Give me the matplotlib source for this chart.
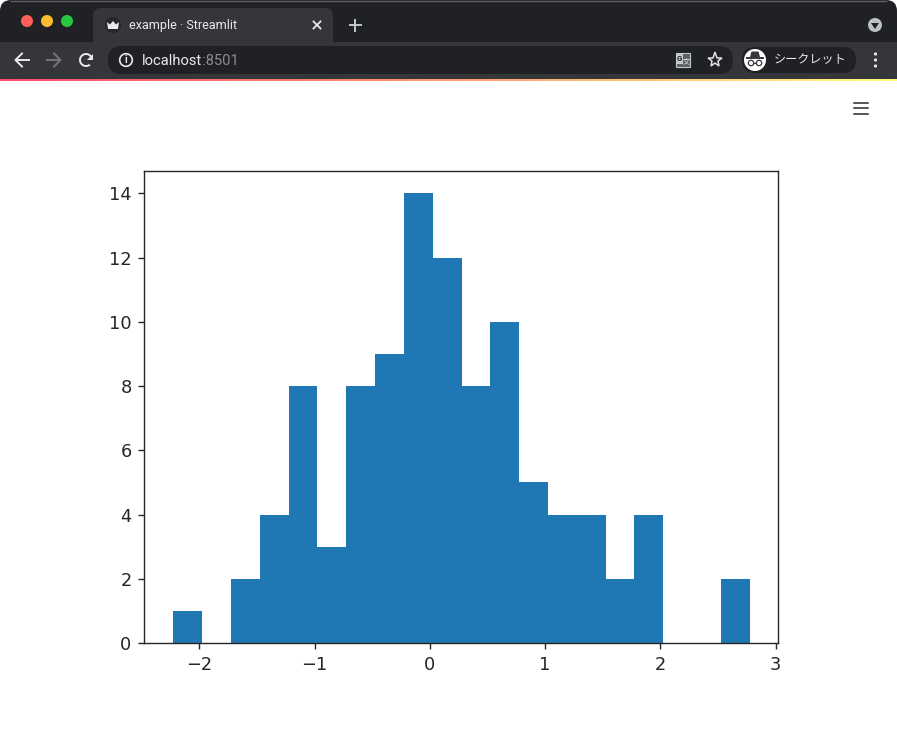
import matplotlib
matplotlib.use("Agg")
import matplotlib.pyplot as plt
import numpy as np
from matplotlib.patches import Circle, FancyBboxPatch, Polygon, Rectangle, Arc

# Data
counts = [1, 0, 2, 4, 8, 3, 8, 9, 14, 12, 8, 10, 5, 4, 4, 2, 4, 0, 0, 2]
bin_edges = [-2.225, -1.975, -1.725, -1.475, -1.225, -0.975, -0.725, -0.475, -0.225, 0.025, 0.275,
             0.525, 0.775, 1.025, 1.275, 1.525, 1.775, 2.025, 2.275, 2.525, 2.775]
x_ticks = [-2, -1, 0, 1, 2, 3]
y_ticks = [0, 2, 4, 6, 8, 10, 12, 14]

tab_title = "example · Streamlit"
url_host = "localhost"
url_port = ":8501"
incognito_label = "シークレット"

W, H = 897, 737
UI_FONT = ["Roboto", "DejaVu Sans"]

fig = plt.figure(figsize=(W / 100, H / 100), dpi=100, facecolor="white")

# Browser window, drawn in pixel coordinates
ui = fig.add_axes([0, 0, 1, 1])
ui.set_xlim(0, W)
ui.set_ylim(H, 0)
ui.axis("off")


def pill(x0, y0, x1, y1, r, color, z=2):
    ui.add_patch(FancyBboxPatch((x0 + r, y0 + r), x1 - x0 - 2 * r, y1 - y0 - 2 * r,
                                boxstyle=f"round,pad={r},rounding_size={r}",
                                fc=color, ec="none", zorder=z))


pill(0, 0, W, 40, 11, "#202124", 1)
ui.add_patch(Rectangle((0, 14), W, 28, fc="#202124", ec="none", zorder=1))
ui.plot([11, W - 11], [0.5, 0.5], color="#5f6063", lw=1, zorder=3)
ui.add_patch(Rectangle((0, 42), W, 37, fc="#35363a", ec="none", zorder=1))

# Traffic lights
for cx, col in zip([27, 47, 67], ["#ff5f57", "#febc2e", "#28c840"]):
    ui.add_patch(Circle((cx, 21), 6, fc=col, ec="none", zorder=3))

# Tab
pill(93, 8, 333, 50, 8, "#35363a", 2)
ui.add_patch(Circle((113, 25), 8, fc="#25262c", ec="none", zorder=3))
ui.add_patch(Polygon([(107, 22), (110, 24.5), (113, 21), (116, 24.5), (119, 22), (118, 29), (108, 29)],
                     fc="#e8eaed", ec="none", zorder=4))
ui.text(129, 25, tab_title, color="#e8eaed", fontsize=9.0, family=UI_FONT, va="center", ha="left")
ui.plot([313.5, 320.5], [21.5, 28.5], color="#e8eaed", lw=1.3, zorder=4)
ui.plot([313.5, 320.5], [28.5, 21.5], color="#e8eaed", lw=1.3, zorder=4)
ui.plot([349.5, 360.5], [25, 25], color="#c4c7cb", lw=1.4, zorder=4)
ui.plot([355, 355], [19.5, 30.5], color="#c4c7cb", lw=1.4, zorder=4)
ui.add_patch(Circle((875, 25), 7, fc="#bdc1c6", ec="none", zorder=3))
ui.add_patch(Polygon([(871, 23), (879, 23), (875, 29)], fc="#202124", ec="none", zorder=4))

# Toolbar
ui.plot([16, 29], [60, 60], color="#e8eaed", lw=1.4, zorder=3)
ui.plot([22, 15.5, 22], [53.5, 60, 66.5], color="#e8eaed", lw=1.4, zorder=3)
ui.plot([47, 60], [60, 60], color="#75777a", lw=1.4, zorder=3)
ui.plot([54, 60.5, 54], [53.5, 60, 66.5], color="#75777a", lw=1.4, zorder=3)
ui.add_patch(Arc((86, 60), 12, 12, theta1=-310, theta2=-10, ec="#e8eaed", lw=1.4, zorder=3))
ui.add_patch(Polygon([(92.5, 53.5), (92.5, 59.5), (86.5, 59.5)], fc="#e8eaed", ec="none", zorder=3))
pill(108, 46, 733, 74, 14, "#202124", 2)
ui.add_patch(Circle((126, 60), 6.3, fc="none", ec="#e8eaed", lw=1.2, zorder=3))
ui.text(126, 60, "i", color="#e8eaed", fontsize=7.5, family=UI_FONT, weight="bold", ha="center",
        va="center", zorder=4)
host = ui.text(142, 60.5, url_host, color="#e8eaed", fontsize=10.6, family=UI_FONT, va="center", ha="left")
fig.canvas.draw()
host_end = host.get_window_extent().x1
ui.text(host_end - 0.5, 60.5, url_port, color="#8a8c8f", fontsize=10.6, family=UI_FONT, va="center", ha="left")

# Translate and star icons
ui.add_patch(Rectangle((676, 53), 14, 14, fc="#5f6063", ec="#c4c7cb", lw=0.8, zorder=3))
ui.add_patch(Rectangle((676, 53), 7, 11, fc="#c4c7cb", ec="none", zorder=4))
ui.text(679.5, 58.5, "G", color="#202124", fontsize=5.5, family=UI_FONT, weight="bold", ha="center",
        va="center", zorder=5)
ui.text(686.5, 61.5, "文", color="#e8eaed", fontsize=5, family=["Noto Sans CJK JP"], ha="center",
        va="center", zorder=5)
ui.plot([715], [60], marker="*", ms=11, mfc="none", mec="#dfe1e5", mew=1.1, zorder=3)

# Incognito badge
pill(742, 47, 856, 73, 13, "#202124", 2)
ui.add_patch(Circle((755, 60), 11, fc="white", ec="none", zorder=3))
ui.add_patch(Polygon([(750, 57), (751.5, 51.5), (758.5, 51.5), (760, 57)], fc="#35363a", ec="none", zorder=4))
ui.plot([747, 763], [57.5, 57.5], color="#35363a", lw=1.4, zorder=4)
ui.add_patch(Circle((751, 63), 2.7, fc="white", ec="#35363a", lw=0.9, zorder=4))
ui.add_patch(Circle((759, 63), 2.7, fc="white", ec="#35363a", lw=0.9, zorder=4))
ui.plot([753.7, 756.3], [62.5, 62.5], color="#35363a", lw=0.9, zorder=4)
ui.text(810, 60, incognito_label, color="#e8eaed", fontsize=8.7, family=["Noto Sans CJK JP", "DejaVu Sans"],
        ha="center", va="center", zorder=4)
for dot_y in [54, 60, 66]:
    ui.add_patch(Circle((875.5, dot_y), 1.6, fc="#e8eaed", ec="none", zorder=3))

# Streamlit decoration line
grad = np.linspace(0, 1, 256).reshape(1, -1)
cmap = matplotlib.colors.LinearSegmentedColormap.from_list("deco", ["#ff4b6e", "#ff9a70", "#fffd80"])
ui.imshow(grad, extent=(0, W, 81, 79), aspect="auto", cmap=cmap, zorder=3)
ui.set_xlim(0, W)
ui.set_ylim(H, 0)

# Hamburger menu
for line_y in [102.5, 108, 113.5]:
    ui.plot([854, 868], [line_y, line_y], color="#262730", lw=1.1, zorder=3)

# Histogram
ax = fig.add_axes([144 / W, 1 - 643 / H, 634 / W, 472 / H])
ax.hist(bin_edges[:-1], bins=bin_edges, weights=counts, color="#1f77b4")
ax.set_xlim(-2.48, 3.02)
ax.set_ylim(0, 14.7)
ax.set_xticks(x_ticks)
ax.set_yticks(y_ticks)
ax.tick_params(labelsize=12.8, length=4.5, width=1.0, colors="#262626", pad=4.5)
for side in ax.spines.values():
    side.set_linewidth(1.0)
    side.set_color("#262626")

fig.savefig("out.png", dpi=100)
